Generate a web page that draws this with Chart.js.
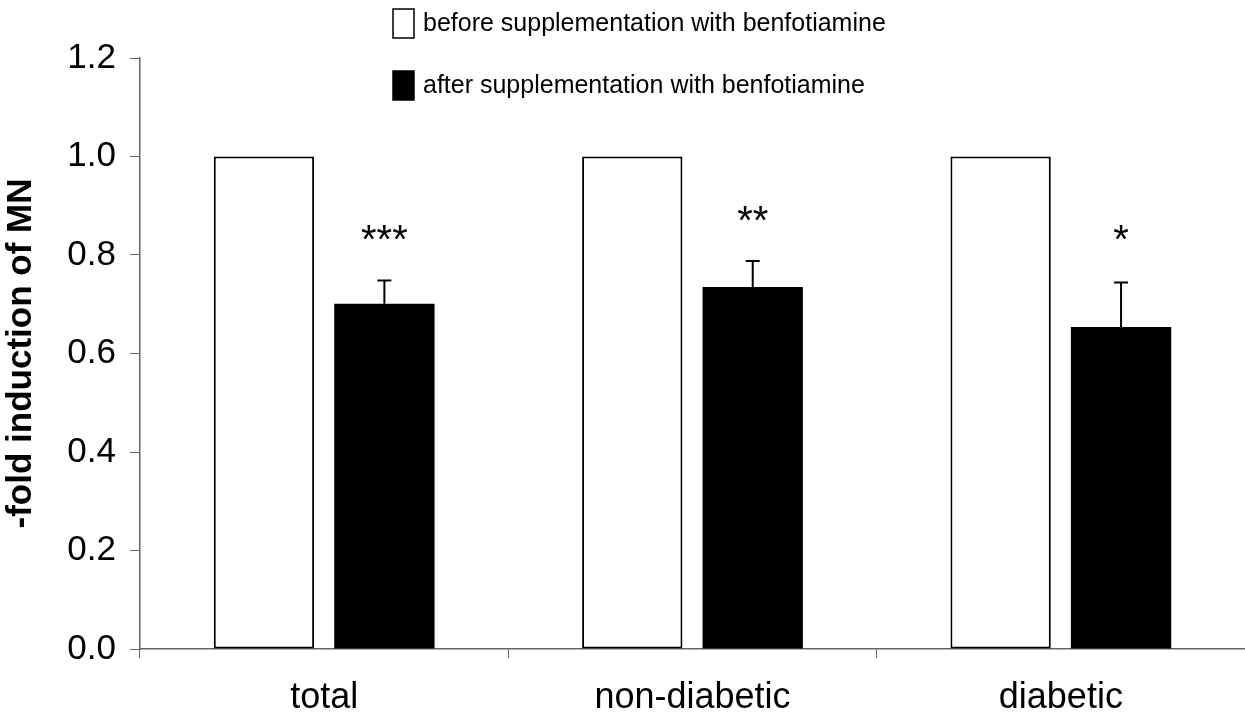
<!DOCTYPE html>
<html>
<head>
<meta charset="utf-8">
<script src="https://cdn.jsdelivr.net/npm/chart.js@4"></script>
<style>
  html, body { margin: 0; padding: 0; background: #fff; }
  #wrap { width: 1245px; height: 714px; }
</style>
</head>
<body>
<div id="wrap"><canvas id="chart" width="1245" height="714"></canvas></div>
<script>
// =====================
// Data
// =====================
const categories = ["total", "non-diabetic", "diabetic"];
const beforeValues = [1.0, 1.0, 1.0];
const afterValues = [0.701, 0.735, 0.654];
const afterErrors = [0.047, 0.053, 0.090];
const stars = ["***", "**", "*"];
const starLevels = [0.85, 0.89, 0.85];
const seriesNames = ["before supplementation with benfotiamine", "after supplementation with benfotiamine"];
const yTicks = [0, 0.2, 0.4, 0.6, 0.8, 1.0, 1.2];

const FONT = "'Liberation Sans', Arial, sans-serif";

// =====================
// Error bars + stars
// =====================
const errorBarPlugin = {
    id: "errorBars",
    afterDatasetsDraw(chart) {
        const ctx = chart.ctx;
        const meta = chart.getDatasetMeta(1);
        const y = chart.scales.y;
        ctx.save();
        ctx.strokeStyle = "#000";
        ctx.lineWidth = 2;
        meta.data.forEach((bar, i) => {
            const top = y.getPixelForValue(afterValues[i] + afterErrors[i]);
            ctx.beginPath();
            ctx.moveTo(bar.x, bar.y);
            ctx.lineTo(bar.x, top);
            ctx.moveTo(bar.x - 7, top);
            ctx.lineTo(bar.x + 7, top);
            ctx.stroke();

            // significance stars, baseline sits below the glyph centre
            ctx.fillStyle = "#000";
            ctx.font = "40px " + FONT;
            ctx.textAlign = "center";
            ctx.textBaseline = "alphabetic";
            ctx.fillText(stars[i], bar.x, y.getPixelForValue(starLevels[i]) + 23);
        });
        ctx.restore();
    }
};

// =====================
// Legend (top, boxes + text)
// =====================
const legendPlugin = {
    id: "topLegend",
    afterDraw(chart) {
        const ctx = chart.ctx;
        ctx.save();
        ctx.font = "25px " + FONT;
        ctx.textBaseline = "middle";
        ctx.textAlign = "left";
        const rows = [24, 86];
        chart.data.datasets.forEach((ds, i) => {
            const cy = rows[i];
            ctx.fillStyle = ds.backgroundColor;
            ctx.fillRect(393, cy - 15, 21, 29);
            ctx.strokeStyle = "#000";
            ctx.lineWidth = 1.5;
            ctx.strokeRect(393, cy - 15, 21, 29);
            ctx.fillStyle = "#000";
            ctx.fillText(ds.label, 423, cy);
        });
        ctx.restore();
    }
};

// =====================
// Chart
// =====================
const ctx = document.getElementById("chart").getContext("2d");
new Chart(ctx, {
    type: "bar",
    data: {
        labels: categories,
        datasets: [
            { label: seriesNames[0], data: beforeValues, backgroundColor: "#ffffff", borderColor: "#000", borderWidth: 2, borderSkipped: false },
            { label: seriesNames[1], data: afterValues, backgroundColor: "#000000", borderColor: "#000", borderWidth: 0 }
        ]
    },
    options: {
        responsive: false,
        animation: false,
        layout: { padding: { top: 58, right: 0, left: 0, bottom: 0 } },
        categoryPercentage: 0.654,
        barPercentage: 0.833,
        plugins: { legend: { display: false }, tooltip: { enabled: false } },
        scales: {
            x: {
                offset: true,
                grid: { display: true, drawOnChartArea: false, offset: true, color: "#666", tickLength: 9, lineWidth: 1 },
                border: { color: "#666", width: 1.5 },
                ticks: { color: "#000", font: { family: FONT, size: 36 }, padding: 18 },
                afterFit(scale) { scale.height = 65; }
            },
            y: {
                min: 0,
                max: 1.2,
                afterBuildTicks(scale) { scale.ticks = yTicks.map(v => ({ value: v })); },
                grid: { display: true, drawOnChartArea: false, color: "#666", tickLength: 10 },
                border: { color: "#666", width: 1.5 },
                ticks: {
                    color: "#000",
                    font: { family: FONT, size: 35 },
                    padding: 14,
                    callback: v => Number(v).toFixed(1)
                },
                title: {
                    display: true,
                    text: "-fold induction of MN",
                    color: "#000",
                    font: { family: FONT, size: 35, weight: "bold" },
                    padding: 0
                },
                afterFit(scale) { scale.width = 140; }
            }
        }
    },
    plugins: [errorBarPlugin, legendPlugin]
});
</script>
</body>
</html>
